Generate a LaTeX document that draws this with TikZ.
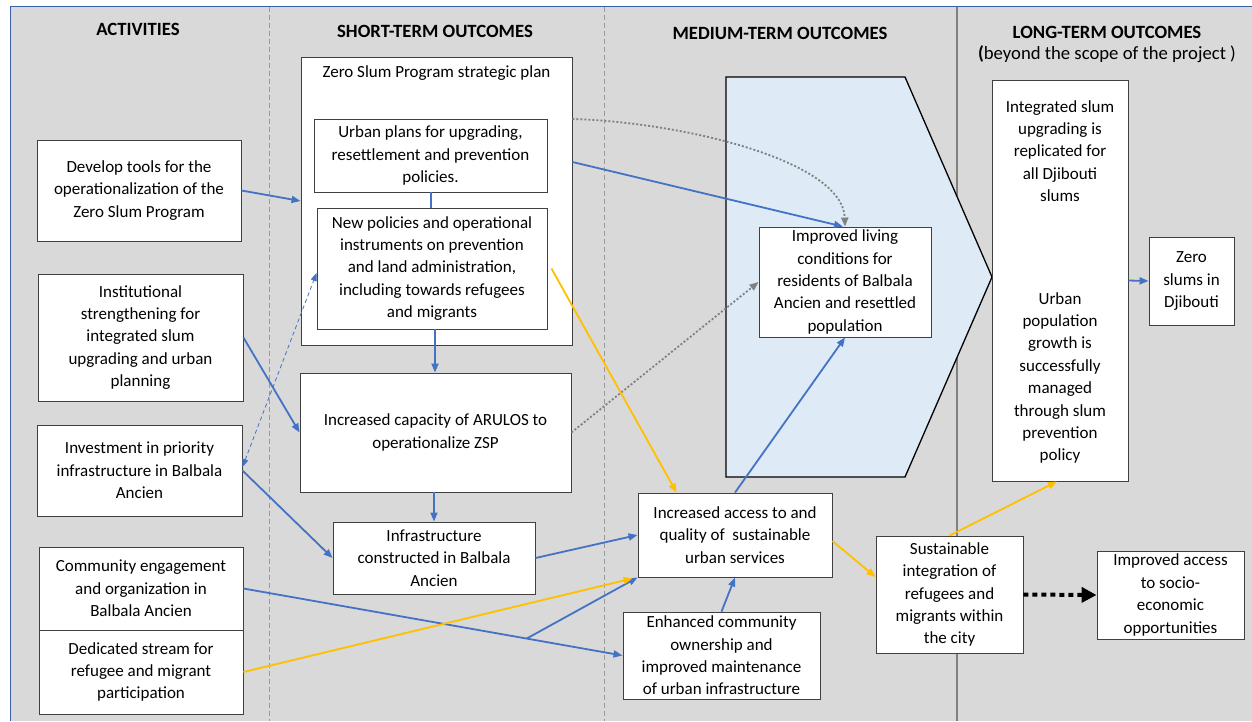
\documentclass[tikz,border=0pt]{standalone}
\usepackage{fontspec}
\setmainfont{Carlito}
\usetikzlibrary{arrows.meta,calc}
\definecolor{bggray}{HTML}{D9D9D9}
\definecolor{lblue}{HTML}{4472C4}
\definecolor{lyel}{HTML}{FFC000}
\definecolor{pentfill}{HTML}{DEEBF7}
\definecolor{frameblue}{HTML}{3B5EA6}
\begin{document}
\begin{tikzpicture}[x=1pt,y=-1pt,
  box/.style={draw=black!75, line width=0.9pt, fill=white, align=center, inner sep=0pt, font=\fontsize{17}{22.4}\selectfont},
  plain/.style={align=center, inner sep=0pt, font=\fontsize{17}{22.4}\selectfont},
  hdr/.style={font=\fontsize{18.7}{22}\selectfont\bfseries, align=center, inner sep=0pt},
  barrow/.style={draw=lblue, line width=1.8pt, -{Triangle[length=9pt,width=7pt]}},
  yarrow/.style={draw=lyel, line width=1.8pt, -{Triangle[length=9pt,width=7pt]}},
  garrow/.style={draw=black!50, line width=1.8pt, dash pattern=on 2pt off 2pt, -{Triangle[length=9pt,width=7pt]}},
  sepdash/.style={draw=black!40, line width=0.8pt, dash pattern=on 5pt off 3pt},
]
\useasboundingbox (0,0) rectangle (1252,721);
% background
\fill[white] (0,0) rectangle (1252,721);
\fill[bggray] (10,6.5) rectangle (1252,721);
\draw[frameblue, line width=1pt] (10,721) -- (10,6.5) -- (1252,6.5);
% column separators
\draw[sepdash] (269,7) -- (269,721);
\draw[sepdash] (604,7) -- (604,721);
\draw[black!50, line width=2pt] (957,7) -- (957,721);

% headers
\node[hdr] (h1) at (138,29) {ACTIVITIES};
\node[hdr] (h2) at (435,31) {SHORT-TERM OUTCOMES};
\node[hdr] (h3) at (780,33) {MEDIUM-TERM OUTCOMES};
\node[hdr] (h4) at (1107,32) {LONG-TERM OUTCOMES};
\node[plain, font=\fontsize{18.7}{22}\selectfont] (h4b) at (1107,54) {\textbf{(}beyond the scope of the project )};

% pentagon
\draw[fill=pentfill, draw=black, line width=1.3pt] (726,77) -- (905,77) -- (992,277) -- (905,477) -- (726,477) -- cycle;

% activities
\node[box, minimum width=204pt, minimum height=101pt] (a1) at (139,190.5) {Develop tools for the\\operationalization of the\\Zero Slum Program};
\node[box, minimum width=205pt, minimum height=127pt] (a2) at (140.5,337.5) {Institutional\\strengthening for\\integrated slum\\upgrading and urban\\planning};
\node[box, minimum width=205pt, minimum height=91pt] (a3) at (139.5,470.5) {Investment in priority\\infrastructure in Balbala\\Ancien};
\node[box, minimum width=204pt, minimum height=83pt] (a4) at (141,588.5) {Community engagement\\and organization in\\Balbala Ancien};
\node[box, minimum width=204pt, minimum height=84pt] (a5) at (141,672) {Dedicated stream for\\refugee and migrant\\participation};

% short-term
\node[box, minimum width=271pt, minimum height=288pt] (s0) at (436.5,201) {};
\node[plain] (s0t) at (436.5,73) {Zero Slum Program strategic plan};
\node[box, minimum width=233pt, minimum height=73pt] (s1) at (430.5,155.5) {Urban plans for upgrading,\\resettlement and prevention\\policies.};
\node[box, minimum width=230pt, minimum height=121pt] (s2) at (432,268.5) {New policies and operational\\instruments on prevention\\and land administration,\\including towards refugees\\and migrants};
\node[box, minimum width=271pt, minimum height=119pt] (s3) at (435.5,432.5) {Increased capacity of ARULOS to\\operationalize ZSP};
\node[box, minimum width=202pt, minimum height=72pt] (s4) at (434,558) {Infrastructure\\constructed in Balbala\\Ancien};

% medium-term
\node[box, minimum width=172pt, minimum height=110pt] (m1) at (845,282) {Improved living\\conditions for\\residents of Balbala\\Ancien and resettled\\population};
\node[box, minimum width=194pt, minimum height=84pt] (m2) at (735,535) {Increased access to and\\quality of\ \ sustainable\\urban services};
\node[box, minimum width=197pt, minimum height=87pt] (m3) at (721.5,655.5) {Enhanced community\\ownership and\\improved maintenance\\of urban infrastructure};
\node[box, minimum width=147pt, minimum height=117pt] (m4) at (949.5,594.5) {Sustainable\\integration of\\refugees and\\migrants within\\the city};

% long-term
\node[box, minimum width=136pt, minimum height=401pt] (l1) at (1060,280.5) {};
\node[plain] (l1a) at (1060,151) {Integrated slum\\upgrading is\\replicated for\\all Djibouti\\slums};
\node[plain] (l1b) at (1060,378) {Urban\\population\\growth is\\successfully\\managed\\through slum\\prevention\\policy};
\node[box, minimum width=85pt, minimum height=88pt] (l2) at (1191.5,281) {Zero\\slums in\\Djibouti};
\node[box, minimum width=147pt, minimum height=88pt] (l3) at (1170.5,595) {Improved access\\to socio-\\economic\\opportunities};

% connectors
\draw[lblue, line width=1.8pt] (s1.south -| 431,0) -- (s2.north -| 431,0);
\draw[barrow] (s2.south -| 435,0) -- (s3.north -| 435,0);
\draw[barrow] (s3.south -| 434,0) -- (s4.north -| 434,0);
\draw[barrow] (a1.east) -- (s0.west);
\draw[barrow] (a2.east) -- (s3.west);
\draw[barrow] (a3.east) -- (s4.west);
\draw[draw=lblue, line width=0.8pt, dash pattern=on 4pt off 3pt, {Triangle[length=8pt,width=6pt]}-{Triangle[length=8pt,width=6pt]}] ([yshift=3.5pt]a3.east) -- ([yshift=-4.5pt]s2.west);
\draw[barrow] (a4.east) -- (m3.west);
\coordinate (br) at ($(a4.east)!0.747!(m3.west)$);
\draw[barrow] (br) -- (m2.south west);
\draw[yarrow] (a5.east) -- ([xshift=-5pt,yshift=-1pt]m2.south west);
\draw[barrow] (s4.east) -- (m2.west);
\draw[barrow] (m3.north) -- (m2.south);
\draw[barrow] (m2.north) -- (m1.south);
\draw[barrow] ([yshift=39pt]s0.east) -- ([xshift=-2pt]m1.north);
\draw[garrow] ([yshift=82pt]s0.east) .. controls (680,122) and (843,160) .. (m1.north);
\draw[garrow] (s3.east) -- (m1.west);
\draw[yarrow] ([xshift=4pt]s2.east) -- ($(m2.north west)!0.2!(m2.north east)$);
\draw[yarrow] ([yshift=-6pt]m2.east) -- ([yshift=17.5pt]m4.west);
\draw[yarrow] (m4.north) -- ([xshift=-3pt]l1.south);
\draw[barrow] (l1.east) -- (l2.west);
\draw[draw=black, line width=4pt, dash pattern=on 5pt off 4pt, -{Triangle[length=15pt,width=15pt]}] (m4.east) -- (l3.west);
\end{tikzpicture}
\end{document}
